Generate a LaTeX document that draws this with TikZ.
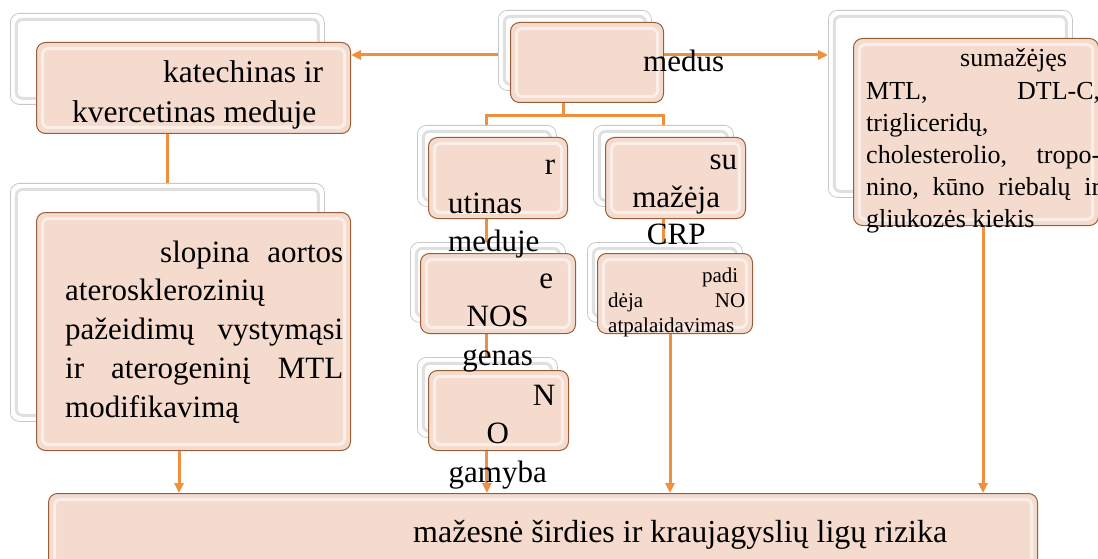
\documentclass[tikz,border=0pt]{standalone}
\usepackage{fontspec}
\setmainfont{Liberation Serif}
\usetikzlibrary{arrows.meta}
\definecolor{boxfill}{RGB}{245,219,206}
\definecolor{boxedge}{RGB}{150,95,55}
\definecolor{backedge}{RGB}{200,200,200}
\definecolor{linkc}{RGB}{240,143,62}
\begin{document}
\begin{tikzpicture}[x=1pt,y=-1pt,
  front/.style={draw=boxedge,fill=boxfill,line width=1pt,rounded corners=9pt,inner sep=0pt,anchor=north west,
    path picture={\draw[white,opacity=.55,line width=3pt,rounded corners=6pt]
      ([shift={(6pt,-6pt)}]path picture bounding box.north west) rectangle ([shift={(-6pt,6pt)}]path picture bounding box.south east);}},
  back/.style={draw=backedge,fill=white,line width=.8pt,rounded corners=9pt,inner sep=0pt,anchor=north west,
    path picture={\draw[gray!40,opacity=.6,line width=3pt,rounded corners=6pt]
      ([shift={(6pt,-6pt)}]path picture bounding box.north west) rectangle ([shift={(-6pt,6pt)}]path picture bounding box.south east);}},
  link/.style={draw=linkc,line width=3pt},
  arr/.style={link,-{Triangle[length=10pt,width=9pt]}},
  txt/.style={inner sep=0pt,anchor=base west,font=\fontsize{31}{38.5}\selectfont}]
\useasboundingbox (0,0) rectangle (1098,559);
\coordinate (hl) at (0,55);
% shadow boxes
\node[back,minimum width=314pt,minimum height=91pt] (katb) at (10,13) {};
\node[back,minimum width=153pt,minimum height=80pt] (medusb) at (498,10) {};
\node[back,minimum width=139pt,minimum height=81pt] (rutb) at (417,125) {};
\node[back,minimum width=140pt,minimum height=81pt] (sumab) at (593,125) {};
\node[back,minimum width=155pt,minimum height=80pt] (enosb) at (410,242) {};
\node[back,minimum width=155pt,minimum height=80pt] (padib) at (587,242) {};
\node[back,minimum width=140pt,minimum height=80pt] (nob) at (417,357) {};
\node[back,minimum width=314pt,minimum height=238pt] (slopb) at (10,183) {};
\node[back,minimum width=244pt,minimum height=187pt] (sumb) at (828,10) {};
% connectors
\draw[link] ([xshift=65pt]medusb.south west) -- ++(0,25) coordinate (fork);
\draw[link] (rutb.north) |- (fork) -| (sumab.north);
\draw[link] (rutb.south) -- (rutb.south |- enosb.north);
\draw[link] (rutb.south |- enosb.south) -- (rutb.south |- nob.north);
\draw[link] (sumab.south) -- (sumab.south |- padib.north);
\draw[link] ([xshift=157pt]katb.south west) -- ([xshift=157pt]slopb.north west);
% front boxes
\node[front,minimum width=314pt,minimum height=91pt] (kat) at (36,42) {};
\node[front,minimum width=153pt,minimum height=80pt] (medus) at (510,22) {};
\node[front,minimum width=139pt,minimum height=81pt] (rut) at (428,137) {};
\node[front,minimum width=140pt,minimum height=81pt] (suma) at (605,137) {};
\node[front,minimum width=155pt,minimum height=80pt] (enos) at (420,253) {};
\node[front,minimum width=155pt,minimum height=80pt] (padi) at (597,253) {};
\node[front,minimum width=140pt,minimum height=80pt] (no) at (428,370) {};
\node[front,minimum width=314pt,minimum height=238pt] (slop) at (36,212) {};
\node[front,minimum width=245pt,minimum height=187pt] (sum) at (853,38) {};
\node[front,minimum width=989pt,minimum height=90pt] (bot) at (48,493) {};
\draw[arr] (medusb.west |- hl) -- (kat.east |- hl);
\draw[arr] (medus.east |- hl) -- (sumb.west |- hl);
\draw[arr] ([xshift=143pt]slop.south west) -- ([xshift=143pt]slop.south west |- bot.north);
\draw[arr] (rutb.south |- no.south) -- (rutb.south |- bot.north);
\draw[arr] ([xshift=73pt]padi.south west) -- ([xshift=73pt]padi.south west |- bot.north);
\draw[arr] ([xshift=130pt]sum.south west) -- ([xshift=130pt]sum.south west |- bot.north);
% texts
\node[txt,font=\fontsize{31.5}{40}\selectfont] (katt) at (72,83) {\begin{minipage}[t]{251pt}\leavevmode\hfill katechinas ir\\ kvercetinas meduje\end{minipage}};
\node[txt] (medust) at (643,72) {medus};
\node[txt] (rutt) at (448,175) {\begin{minipage}[t]{107pt}\leavevmode\hfill r\\ utinas\\ meduje\end{minipage}};
\node[txt,font=\fontsize{31}{37.5}\selectfont] (sumat) at (615,170) {\begin{minipage}[t]{122pt}\leavevmode\hfill su\\ \null\hfil mažėja\\ \null\hfil CRP\end{minipage}};
\node[txt] (enost) at (442,288) {\begin{minipage}[t]{111pt}\leavevmode\hfill e\\ \null\hfil NOS\\ \null\hfil genas\end{minipage}};
\node[txt] (not) at (440,405) {\begin{minipage}[t]{115pt}\leavevmode\hfill N\\ \null\hfil O\\ \null\hfil gamyba\end{minipage}};
\node[txt,font=\fontsize{21}{25}\selectfont] (padit) at (608,282) {\begin{minipage}[t]{137pt}\leavevmode\hfill padi\hspace*{7pt}\\ dėja\hfill NO\\ atpalaidavimas\end{minipage}};
\node[txt,font=\fontsize{31}{38.8}\selectfont] (slopt) at (65,262) {\begin{minipage}[t]{278pt}\hspace*{95pt}slopina\hfill aortos\\ aterosklerozinių\\ pažeidimų\hfill vystymąsi\\ ir\hfill aterogeninį\hfill MTL\\ modifikavimą\end{minipage}};
\node[txt,font=\fontsize{26}{32.2}\selectfont] (sumt) at (866,67) {\begin{minipage}[t]{234pt}\hspace*{94pt}sumažėjęs\\ MTL,\hfill DTL-C,\\ trigliceridų,\\ cholesterolio,\hfill tropo-\\ nino,\hfill kūno\hfill riebalų\hfill ir\\ gliukozės kiekis\end{minipage}};
\node[txt,font=\fontsize{32}{38.5}\selectfont] (bott) at (413,542) {mažesnė širdies ir kraujagyslių ligų rizika};
\end{tikzpicture}
\end{document}
